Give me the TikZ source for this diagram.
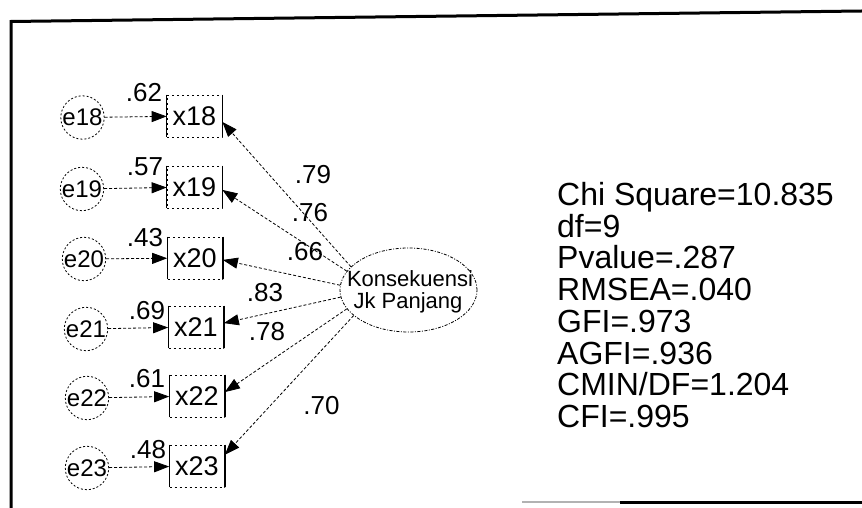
\documentclass[tikz,border=0pt]{standalone}
\usepackage{fontspec}
\setmainfont{Liberation Sans}
\usetikzlibrary{arrows.meta,shapes.geometric}
\begin{document}
\begin{tikzpicture}[x=1bp,y=-1bp,
  err/.style={circle, minimum size=41bp, inner sep=0pt, draw, line width=0.8bp,
    dash pattern=on 2bp off 2bp, font=\fontsize{24bp}{24bp}\selectfont},
  obs/.style={rectangle, minimum width=55bp, minimum height=42bp, inner sep=0pt, draw,
    line width=0.7bp, dash pattern=on 2bp off 3bp, font=\fontsize{27bp}{27bp}\selectfont},
  side/.style={line width=1.3bp},
  lat/.style={ellipse, minimum width=137bp, minimum height=84bp, inner sep=0pt, draw,
    line width=0.8bp, dash pattern=on 3bp off 1.5bp on 1bp off 1.5bp},
  lattext/.style={inner sep=0pt, font=\fontsize{22bp}{22bp}\selectfont},
  arr/.style={line width=0.8bp, dash pattern=on 3bp off 2bp,
    -{Triangle[length=15bp,width=11bp]}},
  coef/.style={font=\fontsize{26bp}{26bp}\selectfont, inner sep=0pt},
  stat/.style={font=\fontsize{32bp}{32bp}\selectfont, inner sep=0pt, anchor=base west},
  frame/.style={line width=3bp, line join=miter}
]
\useasboundingbox (0,0) rectangle (862,508);

% frame
\draw[frame] (862,11) -- (11,21.5) -- (11,508);
\draw[line width=2.5bp, gray!60] (522,502) -- (620,502);
\draw[frame] (620,502) -- (862,502);

% error terms
\node[err] (e18) at (82.5,117.5) {e18};
\node[err] (e19) at (82,189) {e19};
\node[err] (e20) at (84,259) {e20};
\node[err] (e21) at (86,329) {e21};
\node[err] (e22) at (87,398) {e22};
\node[err] (e23) at (87,468) {e23};

% observed
\node[obs] (x18) at (194.5,116) {x18};
\node[obs] (x19) at (194.5,187) {x19};
\node[obs] (x20) at (195,258) {x20};
\node[obs] (x21) at (196,327) {x21};
\node[obs] (x22) at (197,396) {x22};
\node[obs] (x23) at (197,466) {x23};
\foreach \b in {x18,x19,x20,x21,x22,x23}{
  \draw[side] (\b.north west) -- (\b.south west);
  \draw[side] (\b.north east) -- (\b.south east);
}

% latent
\node[lat] (k) at (408.5,290) {};
\node[lattext] (kt1) at (410,278.5) {Konsekuensi};
\node[lattext] (kt2) at (408,303) {Jk Panjang};

% error arrows
\draw[arr] (e18) -- (x18);
\draw[arr] (e19) -- (x19);
\draw[arr] (e20) -- (x20);
\draw[arr] (e21) -- (x21);
\draw[arr] (e22) -- (x22);
\draw[arr] (e23) -- (x23);

% loadings
\draw[arr] (k.158) -- (x18.-12);
\draw[arr] (k.163) -- (x19.-6);
\draw[arr] (k.176) -- (x20.-4);
\draw[arr] (k.186) -- (x21.8);
\draw[arr] (k.197) -- (x22.8);
\draw[arr] (k.205) -- (x23.22);

% squared multiple correlations
\node[coef] (r18) at (144,93) {.62};
\node[coef] (r19) at (145,167) {.57};
\node[coef] (r20) at (145,238) {.43};
\node[coef] (r21) at (147,311) {.69};
\node[coef] (r22) at (147,379) {.61};
\node[coef] (r23) at (148,450) {.48};

% loading labels
\node[coef] (l18) at (313,175) {.79};
\node[coef] (l19) at (310,213) {.76};
\node[coef] (l20) at (305,252) {.66};
\node[coef] (l21) at (265,293) {.83};
\node[coef] (l22) at (267,332) {.78};
\node[coef] (l23) at (321.5,406) {.70};

% fit statistics
\node[stat] (s1) at (557,205.5) {Chi Square=10.835};
\node[stat] (s2) at (557,237.2) {df=9};
\node[stat] (s3) at (557,268.9) {Pvalue=.287};
\node[stat] (s4) at (557,300.6) {RMSEA=.040};
\node[stat] (s5) at (557,332.3) {GFI=.973};
\node[stat] (s6) at (557,364.0) {AGFI=.936};
\node[stat] (s7) at (557,395.7) {CMIN/DF=1.204};
\node[stat] (s8) at (557,427.4) {CFI=.995};
\end{tikzpicture}
\end{document}
